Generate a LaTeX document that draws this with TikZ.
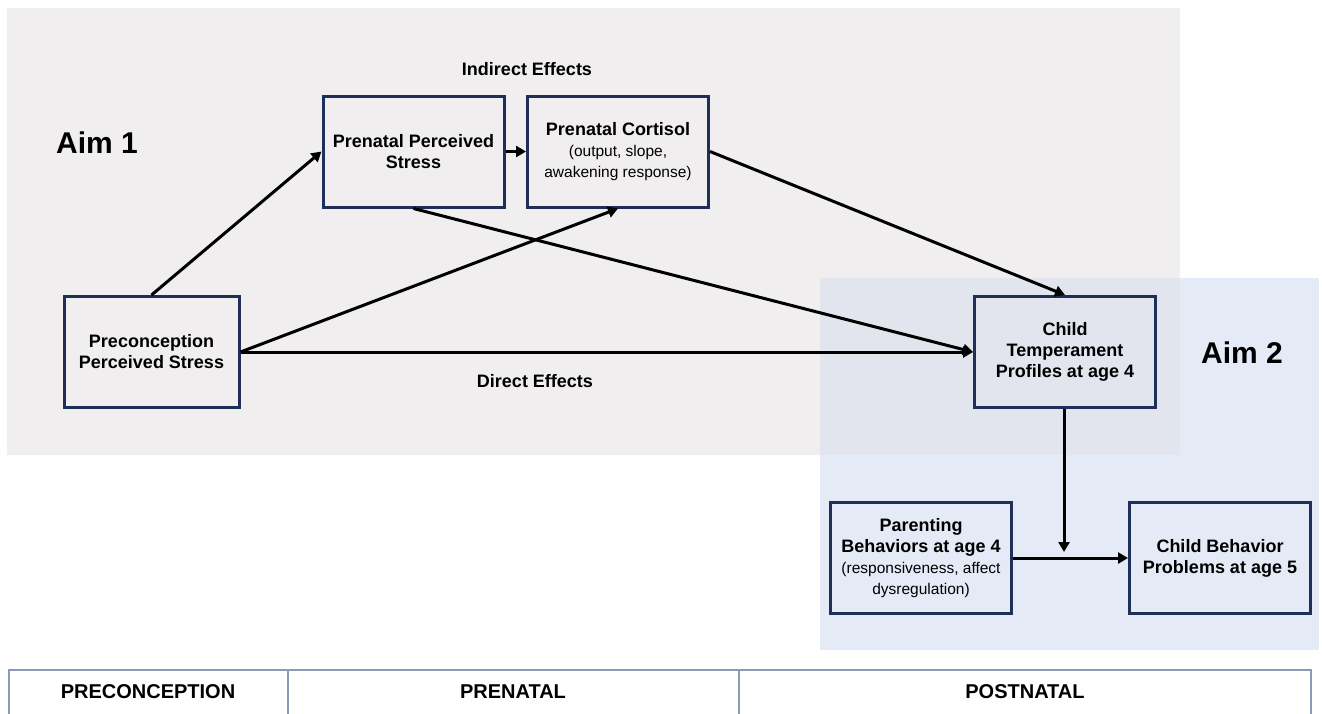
\documentclass[tikz,border=0pt]{standalone}
\usepackage{fontspec}
\setmainfont{Liberation Sans}
\usetikzlibrary{arrows.meta}

\definecolor{aimgray}{HTML}{F0EEEF}
\definecolor{aimblue}{HTML}{E5EBF6}
\definecolor{aimboth}{HTML}{E2E4EE}
\definecolor{navy}{HTML}{1E3058}
\definecolor{tableline}{HTML}{8C9BB5}

\newcommand{\subtxt}[1]{{\fontsize{15.5}{17}\selectfont\mdseries #1}}

\tikzset{
  varbox/.style={draw=navy, line width=3pt, minimum width=181pt, minimum height=111pt,
    inner sep=0pt, align=center, font=\fontsize{18}{21}\selectfont\bfseries},
  path/.style={line width=3pt, -{Triangle[length=10pt,width=11pt]}},
  effect/.style={font=\fontsize{18}{21}\selectfont\bfseries},
  aim/.style={font=\fontsize{30}{34}\selectfont\bfseries},
  phase/.style={font=\fontsize{20}{24}\selectfont\bfseries}
}

\begin{document}
\begin{tikzpicture}[x=1pt, y=-1pt]
	\useasboundingbox (0,0) rectangle (1322,713);
	
	% Hintergrund der beiden Aims
	\fill[aimgray] (7,8) rectangle (1180,455);
	\fill[aimblue] (820,278) rectangle (1319,650);
	\fill[aimboth] (820,278) rectangle (1180,455);
	
	\node[aim] (aimone) at (97,143) {Aim 1};
	\node[aim] (aimtwo) at (1242,353) {Aim 2};
	\node[effect] (indirect) at (527,69) {Indirect Effects};
	\node[effect] (direct) at (535,381) {Direct Effects};
	
	% Variablen
	\node[varbox, minimum width=175pt] (pre) at (151.5,352) {Preconception\\Perceived Stress};
	\node[varbox] (pps) at (413.5,151.5) {Prenatal Perceived\\Stress};
	\node[varbox] (cort) at (618,151.5) {Prenatal Cortisol\\\subtxt{(output, slope,}\\\subtxt{awakening response)}};
	\node[varbox] (temp) at (1065,352) {Child\\Temperament\\Profiles at age 4};
	\node[varbox] (par) at (921,558) {Parenting\\Behaviors at age 4\\\subtxt{(responsiveness, affect}\\\subtxt{dysregulation)}};
	\node[varbox] (cbp) at (1220,558) {Child Behavior\\Problems at age 5};
	\coordinate (mod) at (1064,552);
	
	% Pfade
	\draw[path] (pre.north) -- (pps.west);
	\draw[path] (pre.east) -- (cort.south);
	\draw[path] (pre.east) -- (temp.west);
	\draw[path] (pps.east) -- (cort.west);
	\draw[path] (pps.south) -- (temp.west);
	\draw[path] (cort.east) -- (temp.north);
	\draw[path] (temp.south -| mod) -- (mod);
	\draw[path] (par.east) -- (cbp.west);
	
	% Zeitachse
	\draw[tableline, line width=1.2pt] (9,670) rectangle (1311,730);
	\draw[tableline, line width=1.2pt] (288,670) -- (288,730);
	\draw[tableline, line width=1.2pt] (739,670) -- (739,730);
	\node[phase] (precon) at (148,692) {PRECONCEPTION};
	\node[phase] (prenat) at (513,692) {PRENATAL};
	\node[phase] (postnat) at (1025,692) {POSTNATAL};
	
	%\draw[help lines] (0,0) grid[step=50] (1322,713);
\end{tikzpicture}
\end{document}
